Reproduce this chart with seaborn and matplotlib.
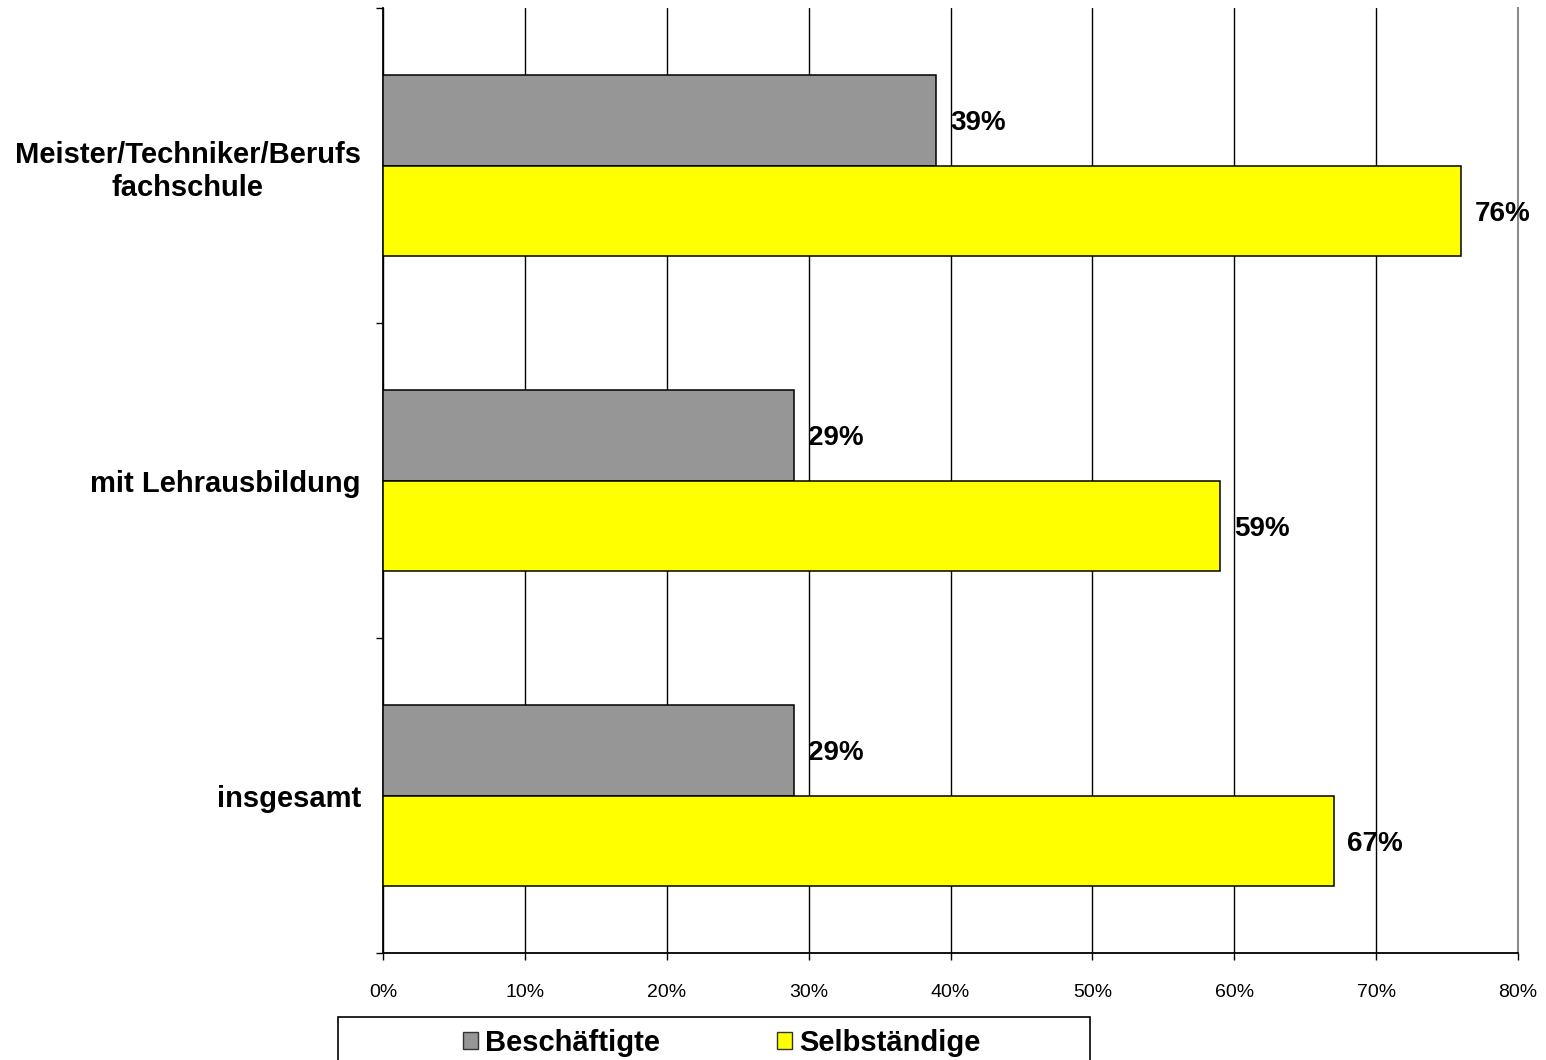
import matplotlib
matplotlib.use("Agg")
import matplotlib.pyplot as plt
import seaborn as sns
import pandas as pd
from matplotlib.patches import Rectangle, Patch
from matplotlib.ticker import PercentFormatter, FixedLocator

# Data
categories = ["Meister/Techniker/Berufs\nfachschule", "mit Lehrausbildung", "insgesamt"]
series = ["Beschäftigte", "Selbständige"]
beschaeftigte = [39, 29, 29]
selbstaendige = [76, 59, 67]
x_ticks = [0, 10, 20, 30, 40, 50, 60, 70, 80]
colors = ["#969696", "#FFFF00"]

df = pd.DataFrame({
    "Gruppe": categories * 2,
    "Status": [series[0]] * len(categories) + [series[1]] * len(categories),
    "Anteil": beschaeftigte + selbstaendige,
})

sns.set_theme(style="white")
plt.rcParams["font.family"] = ["Liberation Sans", "DejaVu Sans"]

W, H = 1546, 1060
fig = plt.figure(figsize=(W / 100, H / 100), dpi=100)
ax = fig.add_axes([383 / W, 1 - 953 / H, (1518 - 383) / W, (953 - 8) / H])

sns.barplot(
    data=df, y="Gruppe", x="Anteil", hue="Status",
    order=categories, hue_order=series, palette=colors, saturation=1,
    orient="h", width=0.575, edgecolor="black", linewidth=1.1,
    legend=False, ax=ax, zorder=3,
)

# Value labels at the end of each bar
for container, vals in zip(ax.containers, [beschaeftigte, selbstaendige]):
    texts = ax.bar_label(container, labels=[f"{v}%" for v in vals], padding=10,
                         fontsize=20, fontweight="bold", color="black")
    for t in texts:
        t.set_va("center_baseline")

ax.set_xlim(0, 80)
ax.set_ylim(len(categories) - 0.5, -0.5)
ax.set_xlabel("")
ax.set_ylabel("")

# X axis
ax.set_xticks(x_ticks)
ax.xaxis.set_major_formatter(PercentFormatter(xmax=100, decimals=0))
ax.tick_params(axis="x", which="major", direction="out", length=5, width=1,
               color="black", pad=17, labelsize=14, labelcolor="black", bottom=True)

# Y axis: labels at category centers, ticks at group boundaries
ax.yaxis.set_minor_locator(FixedLocator([i - 0.5 for i in range(len(categories) + 1)]))
ax.tick_params(axis="y", which="major", length=0, pad=16, labelsize=21, labelcolor="black")
ax.tick_params(axis="y", which="minor", direction="out", length=5, width=1,
               color="black", left=True)
for lbl in ax.get_yticklabels():
    lbl.set_fontweight("bold")
    lbl.set_multialignment("center")
    lbl.set_linespacing(1.25)

# Grid and frame
ax.set_axisbelow(True)
ax.grid(axis="x", color="black", linewidth=1.0)
ax.grid(axis="y", visible=False)
ax.spines["top"].set_visible(False)
ax.spines["right"].set_color("#8c8c8c")
ax.spines["right"].set_linewidth(1.5)
for s in ("left", "bottom"):
    ax.spines[s].set_color("black")
    ax.spines[s].set_linewidth(1.3)

# Legend with its own frame box below the axis
fig.patches.append(Rectangle((338 / W, -0.05), (1090 - 338) / W, 0.05 + (1 - 1017 / H),
                             transform=fig.transFigure, fill=False,
                             edgecolor="black", linewidth=1.2, clip_on=False))
handles = [Patch(facecolor=c, edgecolor="#333333", linewidth=1.0) for c in colors]
fig.legend(handles, series, loc="center", bbox_to_anchor=(722 / W, 1 - 1043 / H),
           ncol=2, frameon=False, handlelength=0.52, handleheight=0.52,
           handletextpad=0.25, columnspacing=4.0, labelcolor="black",
           prop={"weight": "bold", "size": 21})

fig.savefig("out.png", dpi=100)
